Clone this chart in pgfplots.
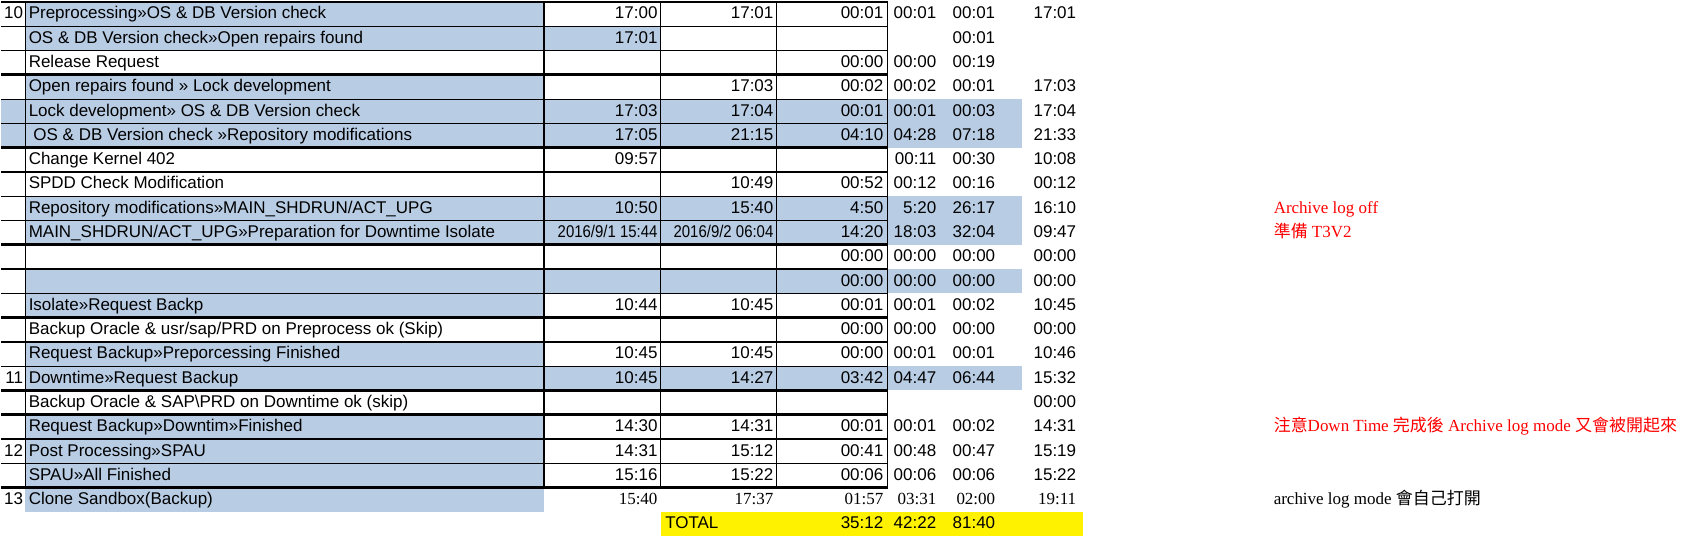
\documentclass[border=0pt]{standalone}
\usepackage{pgfplots}
\pgfplotsset{compat=1.18}
\usepackage{fontspec}
\setmainfont{Liberation Sans}
\newfontfamily\serif{Liberation Serif}
\newfontfamily\cjk{Noto Sans CJK TC}
\definecolor{cb}{HTML}{B8CCE4}
\newcommand\Y[1]{2+24.3*#1}
\newcommand\Lt[3]{\node[anchor=base west,inner sep=0pt] at (axis cs:#1,{2+24.3*#2+17}) {#3};}
\newcommand\Rt[3]{\node[anchor=base east,inner sep=0pt] at (axis cs:#1,{2+24.3*#2+17}) {#3};}
\newcommand\B[3]{\fill[cb] (axis cs:#1,{2+24.3*#3}) rectangle (axis cs:#2,{2+24.3*(#3+1)});}
\newcommand\row[8]{\Lt{27}{#1}{#2}\Rt{657}{#1}{#3}\Rt{773}{#1}{#4}\Rt{883}{#1}{#5}\Rt{936}{#1}{#6}\Rt{995}{#1}{#7}\Rt{1076}{#1}{#8}}
\newcommand\hl[2]{\draw[line width=#2] (axis cs:0,{2+24.3*#1}) -- (axis cs:887,{2+24.3*#1});}
\begin{document}
\begin{tikzpicture}
\begin{axis}[hide axis, scale only axis, width=847.5pt, height=268.5pt,
 xmin=0,xmax=1695,ymin=0,ymax=537,y dir=reverse,clip=false]
\addplot[draw=none] coordinates {(0,0) (1695,537)};
\B{24}{543}{0}
\B{24}{660}{1}
\B{24}{543}{3}
\B{0}{887}{4}\B{887}{1021}{4}
\B{0}{887}{5}\B{887}{1021}{5}
\B{24}{887}{8}\B{887}{1021}{8}
\B{24}{887}{9}\B{887}{1021}{9}
\B{24}{887}{11}\B{887}{1021}{11}
\B{24}{543}{12}
\B{24}{543}{14}
\B{24}{887}{15}\B{887}{1021}{15}
\B{24}{543}{17}
\B{24}{543}{18}
\B{24}{543}{19}
\B{24}{543}{20}
\fill[yellow] (axis cs:660,{\Y{21}}) rectangle (axis cs:1082,{\Y{22}});
\hl{0}{1.4pt}\hl{1}{0.6pt}\hl{2}{0.6pt}\hl{3}{1.4pt}\hl{4}{0.6pt}\hl{5}{0.6pt}\hl{6}{1.4pt}\hl{7}{1.4pt}\hl{8}{0.6pt}\hl{9}{0.6pt}\hl{10}{1.4pt}
\hl{11}{0.6pt}\hl{12}{0.6pt}\hl{13}{1.4pt}\hl{14}{1.4pt}\hl{15}{0.6pt}\hl{16}{1.4pt}\hl{17}{1.4pt}\hl{18}{0.6pt}\hl{19}{0.6pt}\hl{20}{1.4pt}
\draw[line width=0.6pt] (axis cs:24,{\Y{0}}) -- (axis cs:24,{\Y{20}});
\draw[line width=0.6pt] (axis cs:543,{\Y{0}}) -- (axis cs:543,{\Y{20}});
\draw[line width=0.6pt] (axis cs:660,{\Y{0}}) -- (axis cs:660,{\Y{20}});
\draw[line width=0.6pt] (axis cs:776,{\Y{0}}) -- (axis cs:776,{\Y{20}});
\draw[line width=0.6pt] (axis cs:887,{\Y{0}}) -- (axis cs:887,{\Y{20}});
\begin{scope}[font=\fontsize{8.5}{10}\selectfont]
\Rt{22}{0}{10}\Rt{22}{15}{11}\Rt{22}{18}{12}\Rt{22}{20}{13}
\row{0}{Preprocessing>>OS \& DB Version check}{17:00}{17:01}{00:01}{00:01}{00:01}{17:01}
\row{1}{OS \& DB Version check>>Open repairs found}{17:01}{}{}{}{00:01}{}
\row{2}{Release Request}{}{}{00:00}{00:00}{00:19}{}
\row{3}{Open repairs found >> Lock development}{}{17:03}{00:02}{00:02}{00:01}{17:03}
\row{4}{Lock development>> OS \& DB Version check}{17:03}{17:04}{00:01}{00:01}{00:03}{17:04}
\row{5}{\ OS \& DB Version check >>Repository modifications}{17:05}{21:15}{04:10}{04:28}{07:18}{21:33}
\row{6}{Change Kernel 402}{09:57}{}{}{00:11}{00:30}{10:08}
\row{7}{SPDD Check Modification}{}{10:49}{00:52}{00:12}{00:16}{00:12}
\row{8}{Repository modifications>>MAIN\_SHDRUN/ACT\_UPG}{10:50}{15:40}{4:50}{5:20}{26:17}{16:10}
\row{9}{MAIN\_SHDRUN/ACT\_UPG>>Preparation for Downtime Isolate}{\scalebox{0.88}[1]{2016/9/1 15:44}}{\scalebox{0.88}[1]{2016/9/2 06:04}}{14:20}{18:03}{32:04}{09:47}
\row{10}{}{}{}{00:00}{00:00}{00:00}{00:00}
\row{11}{}{}{}{00:00}{00:00}{00:00}{00:00}
\row{12}{Isolate>>Request Backp}{10:44}{10:45}{00:01}{00:01}{00:02}{10:45}
\row{13}{Backup Oracle \& usr/sap/PRD on Preprocess ok (Skip)}{}{}{00:00}{00:00}{00:00}{00:00}
\row{14}{Request Backup>>Preporcessing Finished}{10:45}{10:45}{00:00}{00:01}{00:01}{10:46}
\row{15}{Downtime>>Request Backup}{10:45}{14:27}{03:42}{04:47}{06:44}{15:32}
\row{16}{Backup Oracle \& SAP\textbackslash PRD on Downtime ok (skip)}{}{}{}{}{}{00:00}
\row{17}{Request Backup>>Downtim>>Finished}{14:30}{14:31}{00:01}{00:01}{00:02}{14:31}
\row{18}{Post Processing>>SPAU}{14:31}{15:12}{00:41}{00:48}{00:47}{15:19}
\row{19}{SPAU>>All Finished}{15:16}{15:22}{00:06}{00:06}{00:06}{15:22}
\row{20}{Clone Sandbox(Backup)}{\serif 15:40}{\serif 17:37}{\serif 01:57}{\serif 03:31}{\serif 02:00}{\serif 19:11}
\Lt{664}{21}{TOTAL}\Rt{883}{21}{35:12}\Rt{936}{21}{42:22}\Rt{995}{21}{81:40}
\end{scope}
\begin{scope}[font=\serif\fontsize{8.5}{10}\selectfont]
\Lt{1273}{8}{\color{red}Archive log off}
\Lt{1273}{9}{\color{red}{\cjk 準備} T3V2}
\node[overlay,anchor=base west,inner sep=0pt] at (axis cs:1273,{2+24.3*17+17}) {\color{red}{\cjk 注意}Down Time {\cjk 完成後} Archive log mode {\cjk 又會被開起來}};
\Lt{1273}{20}{archive log mode {\cjk 會自己打開}}
\end{scope}
\end{axis}
\end{tikzpicture}
\end{document}
